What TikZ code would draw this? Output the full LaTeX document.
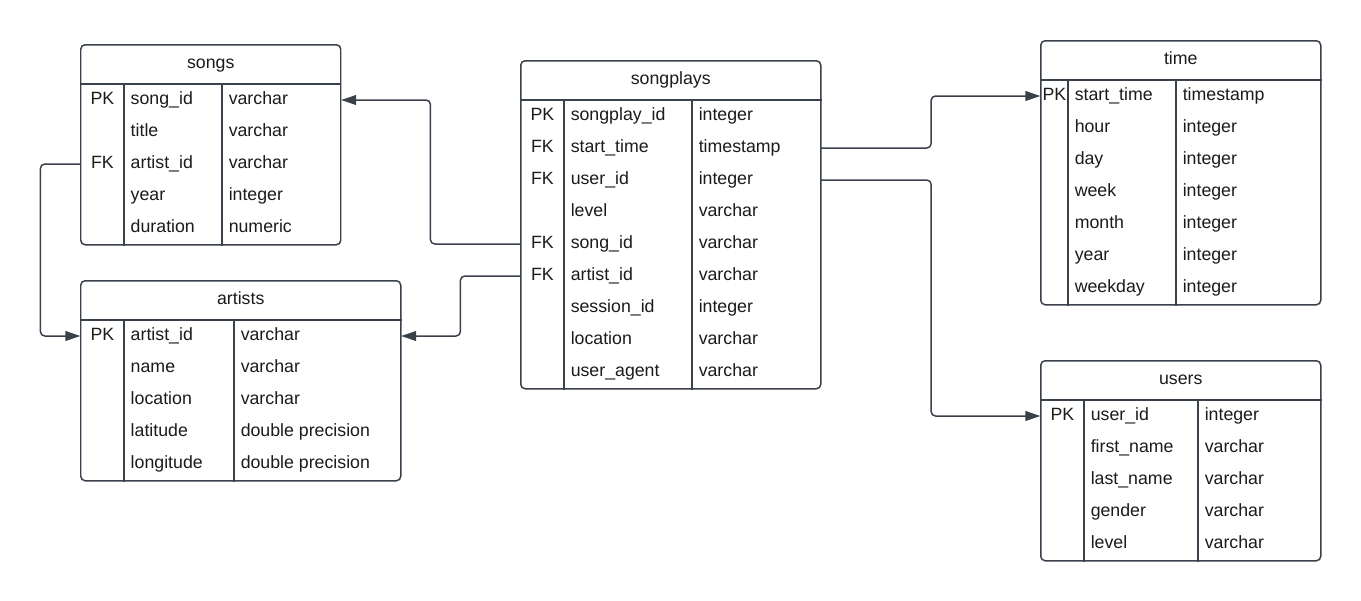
\documentclass[tikz,border=0pt]{standalone}
\usepackage{fontspec}
\setmainfont{Liberation Sans}
\usepackage{xcolor}
\usepackage{tikz}
\usetikzlibrary{arrows.meta,calc}
\definecolor{erline}{HTML}{3A414A}
\definecolor{ertext}{HTML}{1B1B1B}
\newcommand{\pxu}{0.02cm}
\tikzset{
  tbl/.style={draw=erline,line width=0.85pt,rounded corners=2.5pt,anchor=north west,inner sep=0pt,fill=white},
  tsep/.style={draw=erline,line width=0.85pt},
  trow/.style={inner sep=0pt,minimum height=32*\pxu},
  ttitle/.style={inner sep=0pt,anchor=base,text=ertext},
  tkey/.style={inner sep=0pt,anchor=base,text=ertext},
  tcell/.style={inner sep=0pt,anchor=base west,text=ertext},
  fkline/.style={-{Triangle[length=8.5pt,width=5.5pt]},draw=erline,line width=0.85pt,rounded corners=2.5pt}
}
\newcommand{\ertable}[9]{%
  \node[tbl,minimum width=#5*\pxu,minimum height={(40+32*#8)*\pxu}] (#1) at (#3,#4) {};
  \node[ttitle] (#1-title) at ($(#1.north)+(0,24)$) {#2};
  \draw[tsep] ($(#1.north west)+(0,40)$) -- ($(#1.north east)+(0,40)$);
  \draw[tsep] ($(#1.north west)+(#6,40)$) -- ($(#1.south west)+(#6,0)$);
  \draw[tsep] ($(#1.north west)+(#7,40)$) -- ($(#1.south west)+(#7,0)$);
  \foreach \ky/\fd/\ty [count=\i] in {#9} {
    \node[trow,minimum width=#5*\pxu] (#1-\i) at ($(#1.north)+(0,{24+32*\i})$) {};
    \node[tkey] (#1-\i-key) at ($(#1-\i.west)+(#6/2,4)$) {\ky};
    \node[tcell] (#1-\i-name) at ($(#1-\i.west)+(#6+6,4)$) {\fd};
    \node[tcell] (#1-\i-type) at ($(#1-\i.west)+(#7+6,4)$) {\ty};
  }
}

\begin{document}
\begin{tikzpicture}[x=\pxu,y=-\pxu,font=\fontsize{10.1}{12}\selectfont]
  \useasboundingbox (0,0) rectangle (1361,600);
  \ertable{songs}{songs}{80}{44}{260}{44}{142}{5}{PK/song\_id/varchar, {}/title/varchar, FK/artist\_id/varchar, {}/year/integer, {}/duration/numeric}
  \ertable{artists}{artists}{80}{280}{320}{44}{154}{5}{PK/artist\_id/varchar, {}/name/varchar, {}/location/varchar, {}/latitude/double precision, {}/longitude/double precision}
  \ertable{songplays}{songplays}{520}{60}{300}{44}{172}{9}{PK/songplay\_id/integer, FK/start\_time/timestamp, FK/user\_id/integer, {}/level/varchar, FK/song\_id/varchar, FK/artist\_id/varchar, {}/session\_id/integer, {}/location/varchar, {}/user\_agent/varchar}
  \ertable{time}{time}{1040}{40}{280}{28}{136}{7}{PK/start\_time/timestamp, {}/hour/integer, {}/day/integer, {}/week/integer, {}/month/integer, {}/year/integer, {}/weekday/integer}
  \ertable{users}{users}{1040}{360}{280}{44}{158}{5}{PK/user\_id/integer, {}/first\_name/varchar, {}/last\_name/varchar, {}/gender/varchar, {}/level/varchar}
  \draw[fkline] (songplays-5.west) -- ++(-90,0) |- (songs-1.east);
  \draw[fkline] (songplays-6.west) -- ++(-60,0) |- (artists-1.east);
  \draw[fkline] (songs-3.west) -- ++(-40,0) |- (artists-1.west);
  \draw[fkline] (songplays-2.east) -- ++(110,0) |- (time-1.west);
  \draw[fkline] (songplays-3.east) -- ++(110,0) |- (users-1.west);
\end{tikzpicture}
\end{document}
